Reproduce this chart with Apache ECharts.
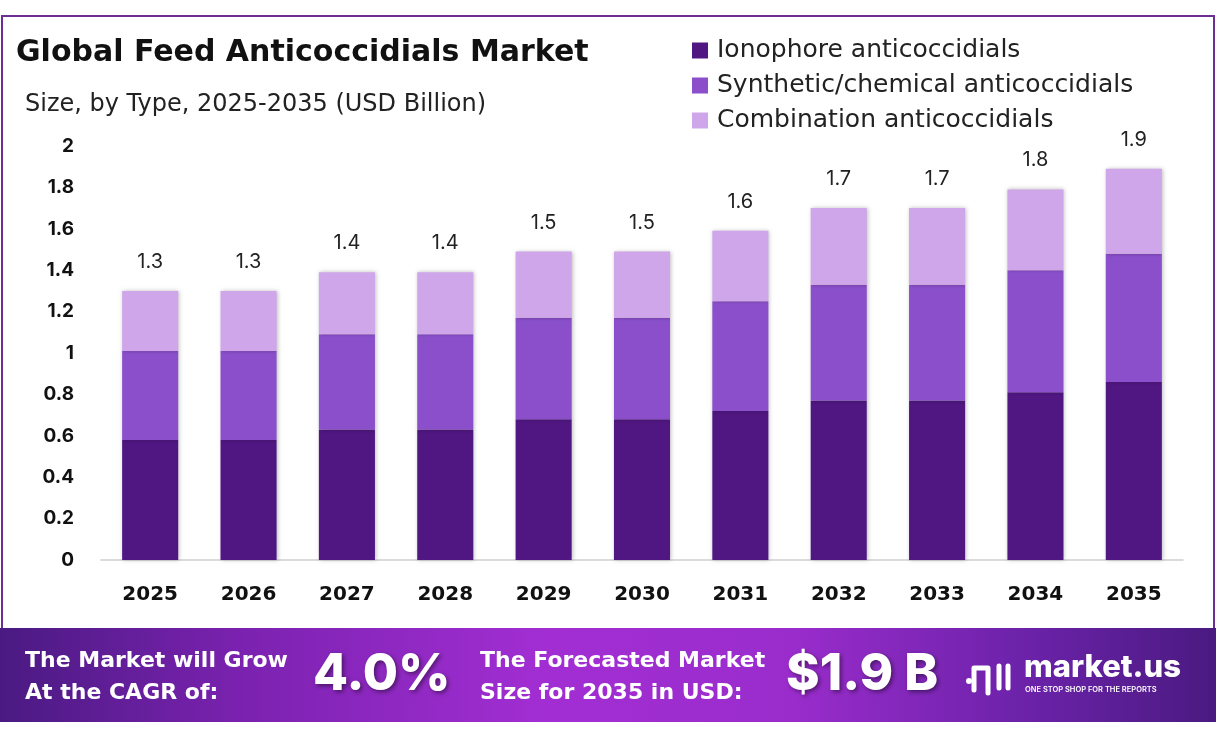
<!DOCTYPE html>
<html>
<head>
<meta charset="utf-8">
<script src="https://cdn.jsdelivr.net/npm/echarts@6/dist/echarts.min.js"></script>
<style>
  html, body { margin: 0; padding: 0; background: #fff; }
  #chart { width: 1216px; height: 739px; }
</style>
</head>
<body>
<div id="chart"></div>
<script>
const years = ['2025', '2026', '2027', '2028', '2029', '2030', '2031', '2032', '2033', '2034', '2035'];
const ionophore = [0.58, 0.58, 0.63, 0.63, 0.68, 0.68, 0.72, 0.77, 0.77, 0.81, 0.86];
const synthetic = [0.43, 0.43, 0.46, 0.46, 0.49, 0.49, 0.53, 0.56, 0.56, 0.59, 0.62];
const combination = [0.29, 0.29, 0.30, 0.30, 0.32, 0.32, 0.34, 0.37, 0.37, 0.39, 0.41];
const totalLabels = ['1.3', '1.3', '1.4', '1.4', '1.5', '1.5', '1.6', '1.7', '1.7', '1.8', '1.9'];
const seriesNames = ['Ionophore anticoccidials', 'Synthetic/chemical anticoccidials', 'Combination anticoccidials'];
const colors = ['#501682', '#8b4fcb', '#cfa6ea'];

const font = 'Inter, "Noto Sans", sans-serif';
const wide = '"DejaVu Sans", sans-serif';
const chart = echarts.init(document.getElementById('chart'));

const barStyle = c => ({
  color: c,
  shadowColor: 'rgba(0,0,0,0.25)',
  shadowBlur: 4,
  shadowOffsetX: 1
});

const option = {
  backgroundColor: '#fff',
  textStyle: { fontFamily: font },
  color: colors,
  title: [
    {
      text: 'Global Feed Anticoccidials Market',
      left: 11, top: 33,
      textStyle: { fontFamily: wide, fontSize: 30, fontWeight: 700, color: '#111' }
    },
    {
      text: 'Size, by Type, 2025-2035 (USD Billion)',
      left: 20, top: 88,
      textStyle: { fontFamily: wide, fontSize: 24, fontWeight: 400, color: '#222' }
    }
  ],
  legend: {
    orient: 'vertical',
    left: 687, top: 33,
    icon: 'rect',
    itemWidth: 16, itemHeight: 16,
    itemGap: 10,
    data: seriesNames,
    textStyle: { fontFamily: wide, fontSize: 25, color: '#222', padding: [0, 0, 0, 4] }
  },
  grid: { left: 101, right: 33, top: 146, bottom: 179 },
  xAxis: {
    type: 'category',
    data: years,
    axisLine: { lineStyle: { color: '#cfcfcf', width: 1.5 } },
    axisTick: { show: false },
    axisLabel: { margin: 25, fontFamily: wide, fontSize: 20, fontWeight: 700, color: '#111' }
  },
  yAxis: {
    type: 'value',
    min: 0, max: 2, interval: 0.2,
    axisLine: { show: false },
    axisTick: { show: false },
    splitLine: { show: false },
    axisLabel: { margin: 27, fontFamily: font, fontSize: 19, fontWeight: 700, color: '#111' }
  },
  series: [
    { name: seriesNames[0], type: 'bar', stack: 'total', barWidth: '57%', data: ionophore, itemStyle: barStyle(colors[0]) },
    { name: seriesNames[1], type: 'bar', stack: 'total', data: synthetic, itemStyle: barStyle(colors[1]) },
    {
      name: seriesNames[2], type: 'bar', stack: 'total', data: combination, itemStyle: barStyle(colors[2]),
      label: {
        show: true, position: 'top', distance: 19,
        formatter: p => totalLabels[p.dataIndex],
        fontFamily: font, fontSize: 20, color: '#222'
      }
    }
  ],
  graphic: [
    // outer frame
    {
      type: 'rect', z: -1, silent: true,
      shape: { x: 2, y: 16, width: 1212, height: 614 },
      style: { fill: 'none', stroke: '#6b2f93', lineWidth: 2 }
    },
    // bottom banner
    {
      type: 'rect', silent: true,
      shape: { x: 0, y: 628, width: 1216, height: 94 },
      style: {
        fill: new echarts.graphic.LinearGradient(0, 0, 1, 0, [
          { offset: 0, color: '#4a1a82' },
          { offset: 0.2, color: '#7b22b0' },
          { offset: 0.45, color: '#a22ed3' },
          { offset: 0.65, color: '#9a2ccc' },
          { offset: 0.85, color: '#6a22a8' },
          { offset: 1, color: '#4a1a80' }
        ])
      }
    },
    {
      type: 'text', left: 25, top: 645,
      style: { text: 'The Market will Grow\nAt the CAGR of:', fill: '#fff', font: '700 22px ' + wide, lineHeight: 32 }
    },
    {
      type: 'text', left: 313, top: 649,
      style: {
        text: '4.0%', fill: '#fff', font: '800 51px ' + font,
        textShadowColor: 'rgba(0,0,0,0.45)', textShadowBlur: 4, textShadowOffsetX: 2, textShadowOffsetY: 2
      }
    },
    {
      type: 'text', left: 480, top: 645,
      style: { text: 'The Forecasted Market\nSize for 2035 in USD:', fill: '#fff', font: '700 22px ' + wide, lineHeight: 32 }
    },
    {
      type: 'text', left: 786, top: 649,
      style: {
        text: '$1.9 B', fill: '#fff', font: '800 51px ' + font,
        textShadowColor: 'rgba(0,0,0,0.45)', textShadowBlur: 4, textShadowOffsetX: 2, textShadowOffsetY: 2
      }
    },
    // logo mark
    {
      type: 'circle', silent: true,
      shape: { cx: 969, cy: 681, r: 3 },
      style: { fill: '#fff' }
    },
    {
      type: 'polyline', silent: true,
      shape: { points: [[974, 690], [974, 668], [988, 668], [988, 693]] },
      style: { stroke: '#fff', lineWidth: 5, fill: 'none', lineJoin: 'round', lineCap: 'round' }
    },
    {
      type: 'line', silent: true,
      shape: { x1: 999, y1: 666, x2: 999, y2: 688 },
      style: { stroke: '#fff', lineWidth: 5, lineCap: 'round' }
    },
    {
      type: 'line', silent: true,
      shape: { x1: 1008, y1: 666, x2: 1008, y2: 688 },
      style: { stroke: '#fff', lineWidth: 5, lineCap: 'round' }
    },
    {
      type: 'text', left: 1024, top: 652,
      style: { text: 'market.us', fill: '#fff', font: '800 31px ' + font }
    },
    {
      type: 'text', left: 1025, top: 686,
      style: { text: 'ONE STOP SHOP FOR THE REPORTS', fill: '#fff', font: '600 7.5px ' + font }
    }
  ]
};

chart.setOption(option);
</script>
</body>
</html>
